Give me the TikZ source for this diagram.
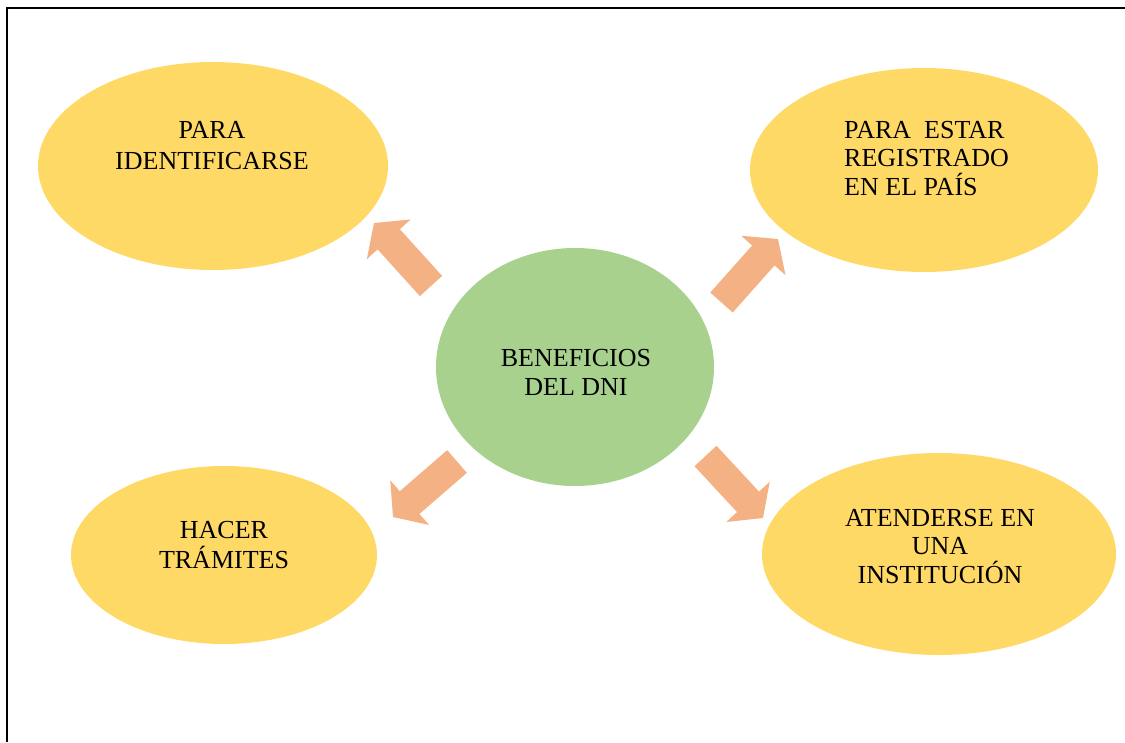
\documentclass[tikz,border=0pt]{standalone}
\usepackage{fontspec}
\setmainfont{Liberation Serif}
\usetikzlibrary{shapes.geometric,arrows.meta}
\definecolor{ygold}{HTML}{FFD966}
\definecolor{lgreen}{HTML}{A9D18E}
\definecolor{apeach}{HTML}{F4B183}
\tikzset{
  bubble/.style={ellipse, fill=ygold, draw=none, inner sep=0pt},
  core/.style={ellipse, fill=lgreen, draw=none, inner sep=0pt},
  lbl/.style={font=\fontsize{26}{28.5}\selectfont, inner sep=0pt, anchor=base},
  blockarrow/.style={draw=apeach, line width=30pt, -{Triangle[length=22pt,width=58pt]}},
}
\begin{document}
\begin{tikzpicture}[x=1pt,y=-1pt]
\useasboundingbox (0,0) rectangle (1125,742);
\fill[white] (0,0) rectangle (1125,742);
\draw[line width=1.5pt] (7,742) -- (7,8) -- (1125,8);

\node[bubble, minimum width=350pt, minimum height=208pt] (tl) at (213,166) {};
\node[bubble, minimum width=348pt, minimum height=204pt] (tr) at (924,170) {};
\node[core, minimum width=278pt, minimum height=238pt] (c) at (575,367) {};
\node[bubble, minimum width=306pt, minimum height=178pt] (bl) at (224,555) {};
\node[bubble, minimum width=354pt, minimum height=202pt] (br) at (939,554) {};

\node[lbl, align=center, font=\fontsize{26}{31}\selectfont] (tlt) at (212,169) {PARA\\IDENTIFICARSE};
\node[lbl, align=left, anchor=base west] (trt) at (844,195) {PARA~ ESTAR\\REGISTRADO\\EN EL PAÍS};
\node[lbl, align=center] (ct) at (576,395) {BENEFICIOS\\DEL DNI};
\node[lbl, align=center, font=\fontsize{26}{30}\selectfont] (blt) at (224,568) {HACER\\TRÁMITES};
\node[lbl, align=center] (brt) at (940,583) {ATENDERSE EN\\UNA\\INSTITUCIÓN};

\coordinate (a1s) at (431,286); \coordinate (a1e) at (374,223);
\coordinate (a2s) at (721.5,302.5); \coordinate (a2e) at (778,239);
\coordinate (a3s) at (457,461.5); \coordinate (a3e) at (393,517);
\coordinate (a4s) at (705.5,456); \coordinate (a4e) at (763,518);
\draw[blockarrow] (a1s) -- (a1e);
\draw[blockarrow] (a2s) -- (a2e);
\draw[blockarrow] (a3s) -- (a3e);
\draw[blockarrow] (a4s) -- (a4e);
\end{tikzpicture}
\end{document}
